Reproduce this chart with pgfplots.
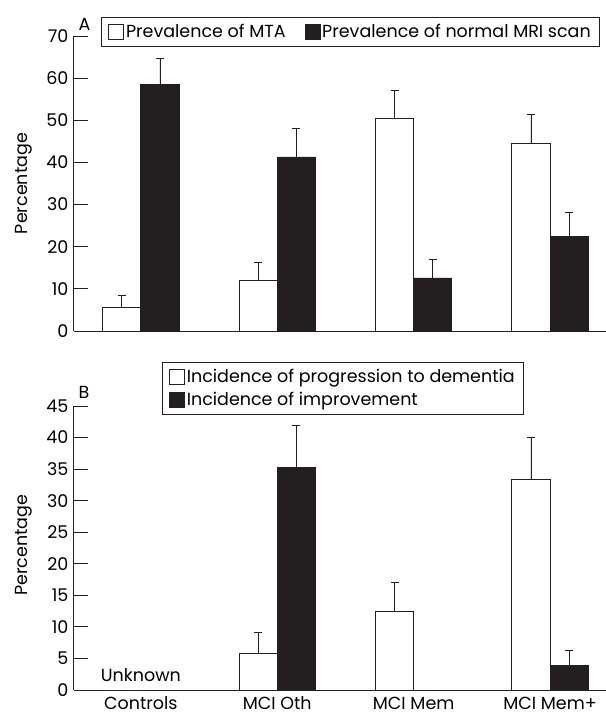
\documentclass[border=0pt]{standalone}
\usepackage{pgfplots}
\pgfplotsset{compat=1.18}
\usepackage{fontspec}
\setmainfont{Poppins}
\definecolor{barblack}{RGB}{35,31,32}
\begin{document}
\begin{tikzpicture}[font=\fontsize{17.5}{21}\selectfont]
\useasboundingbox (0,0) rectangle (606pt,-716pt);
\pgfplotsset{
  panel/.style={
    scale only axis, width=532pt,
    xmin=-0.49, xmax=3.41, ymin=0,
    axis x line=bottom, axis y line=left,
    axis line style={-, line width=1pt, color=barblack},
    tick align=inside, major tick length=14pt,
    ytick style={line width=1pt, color=barblack},
    xtick={0,1,2,3}, xtick style={draw=none},
    /pgf/number format/assume math mode=true,
    tick label style={font=\fontsize{17.5}{21}\selectfont},
    yticklabel style={xshift=-2pt},
    ylabel={Percentage},
    ylabel style={at={(axis description cs:-0.094,0.5)}, anchor=center, font=\fontsize{17.5}{21}\selectfont},
    ybar, bar width=0.28,
    legend image code/.code={\draw[#1, draw=barblack, line width=0.6pt] (0pt,-7.5pt) rectangle (15pt,7.5pt);},
    legend cell align=left,
    legend style={draw=barblack, line width=0.8pt, font=\fontsize{17.5}{21}\selectfont, inner xsep=7pt, inner ysep=5pt},
    error bars/y dir=plus, error bars/y explicit,
    error bars/error mark options={rotate=90, mark size=4pt, line width=0.8pt, color=barblack},
    error bars/error bar style={line width=0.8pt, color=barblack},
  },
  wbar/.style={fill=white, draw=barblack, line width=0.8pt, bar shift=-0.14},
  bbar/.style={fill=barblack, draw=barblack, line width=0.8pt, bar shift=0.14},
}
\begin{axis}[panel, at={(74pt,-331pt)}, anchor=south west, height=295pt,
  ymax=70, ytick={0,10,...,70}, xticklabels={},
  legend columns=2,
  legend style={at={(0.0508,1.064)}, anchor=north west,
    /tikz/every even column/.append style={column sep=17pt}},
]
\addplot[wbar] coordinates {(0,5.5) +- (0,2.9) (1,11.9) +- (0,4.3) (2,50.4) +- (0,6.6) (3,44.5) +- (0,6.8)};
\addlegendentry{Prevalence of MTA}
\addplot[bbar] coordinates {(0,58.5) +- (0,6.2) (1,41.3) +- (0,6.7) (2,12.6) +- (0,4.3) (3,22.4) +- (0,5.7)};
\addlegendentry{Prevalence of normal MRI scan}
\end{axis}
\node[anchor=base west] at (75pt,-30pt) {A};
\begin{axis}[panel, at={(74pt,-690pt)}, anchor=south west, height=284pt,
  ymax=45, ytick={0,5,...,45},
  xticklabels={Controls, MCI Oth, MCI Mem, MCI Mem+},
  xticklabel style={anchor=north, inner sep=0.5pt, yshift=8pt, text depth=0pt},
  ylabel style={at={(axis description cs:-0.094,0.51)}},
  legend columns=1,
  legend style={at={(0.165,1.155)}, anchor=north west, row sep=4pt},
]
\addplot[wbar] coordinates {(0,0) +- (0,0.01) (1,5.8) +- (0,3.3) (2,12.5) +- (0,4.5) (3,33.3) +- (0,6.7)};
\addlegendentry{Incidence of progression to dementia}
\addplot[bbar] coordinates {(0,0) +- (0,0.01) (1,35.3) +- (0,6.6) (2,0) +- (0,0.01) (3,3.9) +- (0,2.4)};
\addlegendentry{Incidence of improvement}
\node[anchor=base] at (axis cs:0,1.3) {Unknown};
\end{axis}
\node[anchor=base west] at (75pt,-398pt) {B};
\end{tikzpicture}
\end{document}
